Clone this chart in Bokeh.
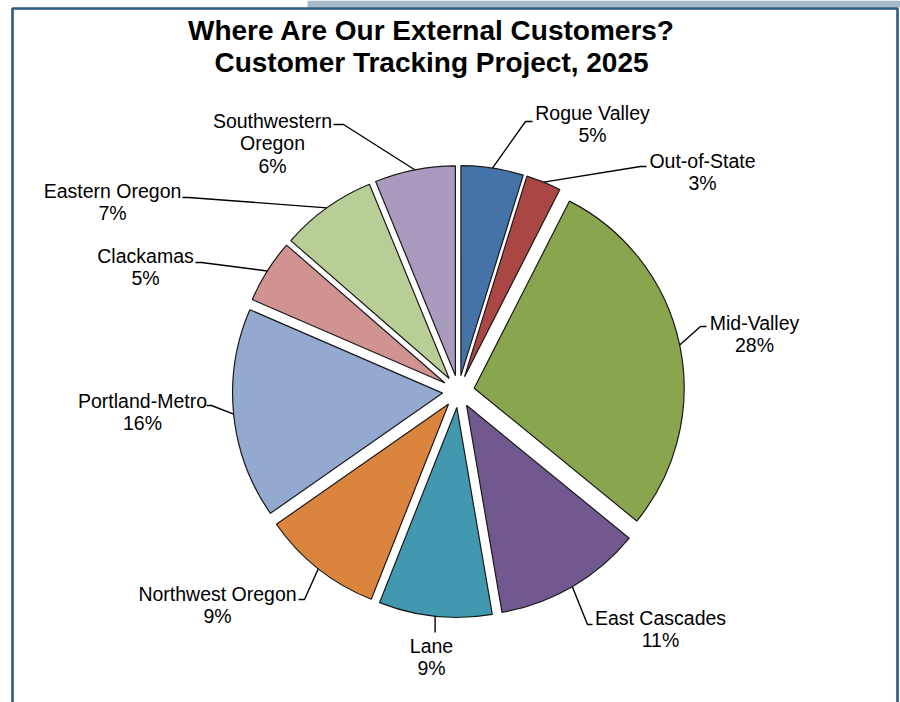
import math
from bokeh.plotting import figure
from bokeh.models import Range1d
from bokeh.core.properties import value
from bokeh.embed import file_html
from bokeh.resources import INLINE

# ---------------- data ----------------
regions = ["Rogue Valley", "Out-of-State", "Mid-Valley", "East Cascades", "Lane",
           "Northwest Oregon", "Portland-Metro", "Clackamas", "Eastern Oregon",
           "Southwestern Oregon"]
shares = [4.8, 2.7, 28.4, 11.4, 8.7, 9.3, 16.2, 4.9, 7.4, 6.2]
colors = ["#4572A7", "#AA4643", "#89A54E", "#71588F", "#4198AF",
          "#DB843D", "#93A9CF", "#D19392", "#B9CD96", "#A99BBD"]
title_lines = ["Where Are Our External Customers?", "Customer Tracking Project, 2025"]

# ---------------- layout (pixel space, y from top) ----------------
W, H = 900, 702
CX, CY = 458, 391          # pie centre
R = 210                    # radius
EXPLODE = 16               # explosion distance
wrap = {"Southwestern Oregon": ["Southwestern", "Oregon"]}
# (text centre x, first line y, elbow x, elbow y, end x)
label_layout = [
    (592, 112, 525, 121, 532),
    (702, 160, 640, 166, 646),
    (754, 322, 700, 326, 706),
    (660, 617, 587, 624, 592),
    (431, 645, None, 632, None),
    (217, 593, 304, 599, 298),
    (142, 400, 211, 405, 206),
    (145, 255, 201, 262, 195),
    (112, 190, 188, 197, 182),
    (272, 120, 343, 124, 333),
]
LINE_STEP = 22.5
FONT = "Liberation Sans"


def Y(y):
    return H - y


p = figure(width=W, height=H, output_backend="svg", toolbar_location=None,
           x_range=Range1d(0, W), y_range=Range1d(0, H), min_border=0)
p.axis.visible = False
p.grid.visible = False
p.outline_line_color = None
p.background_fill_color = "white"
p.border_fill_color = "white"

# page decoration: grey band and blue frame
p.quad(left=[307], right=[W], bottom=[Y(7)], top=[H], fill_color="#A7BACA", line_color=None)
p.line(x=[12, 12, 897, 897], y=[0, Y(8), Y(8), 0], line_color="#2B5A80", line_width=2.6)

total = sum(shares)
cum = 0.0
xs, ys, starts, ends, mids = [], [], [], [], []
for s in shares:
    a0 = cum / total * 2 * math.pi
    cum += s
    a1 = cum / total * 2 * math.pi
    am = (a0 + a1) / 2
    mids.append(am)
    # clockwise from 12 o'clock -> bokeh math angle
    xs.append(CX + EXPLODE * math.sin(am))
    ys.append(Y(CY) + EXPLODE * math.cos(am))
    starts.append(math.pi / 2 - a0)
    ends.append(math.pi / 2 - a1)

p.wedge(x=xs, y=ys, radius=R, start_angle=starts, end_angle=ends, direction="clock",
        fill_color=colors, line_color="#1a1a1a", line_width=1.2)

# leader lines and labels
lx, ly = [], []
tx, ty, tt = [], [], []
for i, name in enumerate(regions):
    am = mids[i]
    ax = CX + (R + EXPLODE) * math.sin(am)
    ay = CY - (R + EXPLODE) * math.cos(am)
    cx, y1, ex, ey, hx = label_layout[i]
    if ex is None:
        ex = ax
        hx = ax
    lx.append([ax, ex, hx])
    ly.append([Y(ay), Y(ey), Y(ey)])
    lines = wrap.get(name, [name]) + [f"{round(shares[i])}%"]
    for k, t in enumerate(lines):
        tx.append(cx)
        ty.append(Y(y1 + k * LINE_STEP))
        tt.append(t)

p.multi_line(xs=lx, ys=ly, line_color="black", line_width=1.4)
p.text(x=tx, y=ty, text=tt, text_align="center", text_baseline="middle",
       text_font=value(FONT), text_font_size="19.5px", text_color="black")

p.text(x=[431, 431], y=[Y(30), Y(62)], text=title_lines, text_align="center",
       text_baseline="middle", text_font=value(FONT), text_font_size="28px",
       text_font_style="bold", text_color="black")

open("out.html", "w").write(file_html(p, INLINE))
